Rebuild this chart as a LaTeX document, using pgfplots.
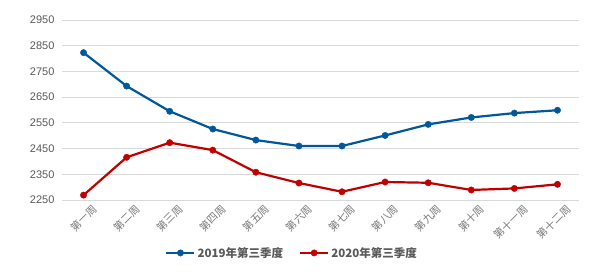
\documentclass[border=0pt]{standalone}
\usepackage{pgfplots}
\pgfplotsset{compat=1.18}
\usepackage{fontspec}
\setmainfont{Liberation Sans}
\newfontfamily\cjk{Noto Sans CJK SC}
\definecolor{lblue}{RGB}{0,88,155}
\definecolor{lred}{RGB}{192,0,0}
\definecolor{tgray}{RGB}{89,89,89}
\definecolor{xgray}{RGB}{120,120,120}
\definecolor{ggray}{RGB}{217,217,217}
\begin{document}
\begin{tikzpicture}
\useasboundingbox (0,0) rectangle (602pt,276pt);
\begin{axis}[
  at={(62pt,76pt)}, anchor=south west,
  scale only axis, width=517pt, height=180pt,
  xmin=-0.5, xmax=11.5, ymin=2250, ymax=2950,
  ytick={2250,2350,...,2950},
  xtick={0,...,11},
  xticklabels={第一周,第二周,第三周,第四周,第五周,第六周,第七周,第八周,第九周,第十周,第十一周,第十二周},
  axis line style={draw=none},
  major tick length=0pt,
  ymajorgrids, grid style={ggray, line width=0.8pt},
  /pgf/number format/assume math mode=true,
  /pgf/number format/set thousands separator={},
  yticklabel style={font=\fontsize{11}{12}\selectfont, text=tgray, xshift=-4pt},
  xticklabel style={font=\cjk\fontsize{10.5}{11}\selectfont, text=xgray, rotate=45, anchor=north east, inner sep=1pt, yshift=-7pt, xshift=4pt},
  legend style={at={(0.445,-0.294)}, anchor=center, draw=none, fill=none, legend columns=2,
    font=\cjk\fontsize{11.5}{12}\selectfont\bfseries, text=tgray,
    /tikz/every even column/.append style={column sep=14pt}},
  legend cell align=left,
  legend image code/.code={\draw[#1] (0pt,0pt) -- (28pt,0pt); \draw[#1] plot coordinates {(14pt,0pt)};},
  clip=false,
]
\addplot[lblue, line width=2.2pt, mark=*, mark size=3.2pt, mark options={solid, fill=lblue, draw=lblue, line width=0.4pt}] coordinates {
(0,2823) (1,2693) (2,2595) (3,2526) (4,2483) (5,2460) (6,2460) (7,2501) (8,2544) (9,2571) (10,2588) (11,2599)};
\addlegendentry{2019年第三季度}
\addplot[lred, line width=2.2pt, mark=*, mark size=3.2pt, mark options={solid, fill=lred, draw=lred, line width=0.4pt}] coordinates {
(0,2269) (1,2416) (2,2473) (3,2444) (4,2358) (5,2316) (6,2282) (7,2320) (8,2317) (9,2289) (10,2295) (11,2311)};
\addlegendentry{2020年第三季度}
\end{axis}
\end{tikzpicture}
\end{document}
